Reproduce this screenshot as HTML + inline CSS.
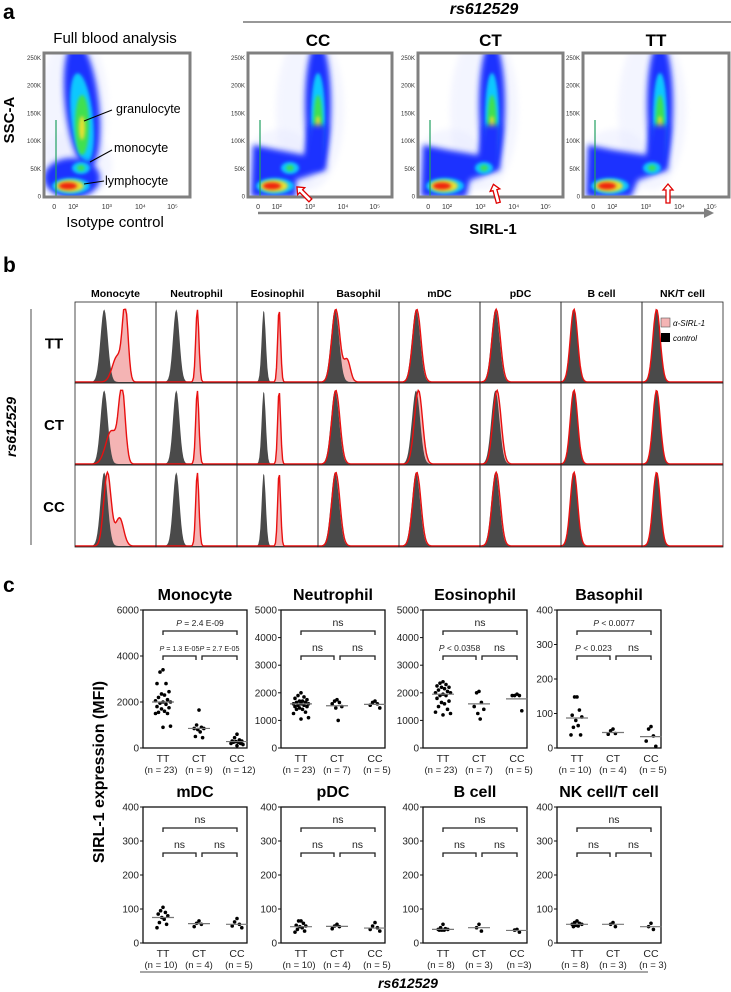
<!DOCTYPE html>
<html><head><meta charset="utf-8">
<style>
html,body{margin:0;padding:0;background:#fff;}
svg{display:block;font-family:"Liberation Sans",sans-serif;}
</style></head>
<body>
<svg id="fig" width="731" height="992" viewBox="0 0 731 992" xmlns="http://www.w3.org/2000/svg">
<defs>
<filter id="bl" x="-50%" y="-50%" width="200%" height="200%"><feGaussianBlur stdDeviation="3"/></filter>
<filter id="bl2" x="-50%" y="-50%" width="200%" height="200%"><feGaussianBlur stdDeviation="1.6"/></filter>
<clipPath id="cp0"><rect x="44" y="53" width="146" height="144"/></clipPath>
<clipPath id="cp1"><rect x="248" y="53" width="144" height="144"/></clipPath>
<clipPath id="cp2"><rect x="418" y="53" width="145" height="144"/></clipPath>
<clipPath id="cp3"><rect x="583" y="53" width="146" height="144"/></clipPath>
</defs>
<g id="pa"></g>
<g id="pb"></g>
<g id="pc"></g>
</svg>
<script>
// ===== Panel c data =====
const cellTypes = ['Monocyte','Neutrophil','Eosinophil','Basophil','mDC','pDC','B cell','NK cell/T cell'];
const genotypes = ['TT','CT','CC'];
const yMaxes = [6000,5000,5000,400,400,400,400,400];
const yStep = [2000,1000,1000,100,100,100,100,100];
const monoTT = [3400,3300,2800,2800,2450,2350,2300,2200,2100,2050,2000,2000,1950,1900,1800,1750,1700,1600,1550,1500,1500,950,900];
const monoCT = [1650,1000,900,850,850,800,700,500,450];
const monoCC = [600,450,350,300,300,280,250,250,200,200,150,100];
const neuTT = [2000,1900,1850,1800,1750,1700,1700,1650,1650,1600,1600,1600,1550,1550,1500,1500,1450,1400,1400,1300,1250,1100,1050];
const neuCT = [1750,1700,1650,1600,1500,1450,1000];
const neuCC = [1700,1650,1600,1550,1450];
const eosTT = [2400,2350,2300,2250,2200,2200,2150,2100,2050,2000,2000,1950,1900,1900,1800,1700,1650,1600,1500,1400,1300,1250,1200];
const eosCT = [2050,2000,1650,1500,1400,1250,1050];
const eosCC = [1950,1900,1900,1900,1350];
const basTT = [148,148,110,95,90,80,65,60,38,38];
const basCT = [55,50,42,40];
const basCC = [62,55,35,20,5];
const mdcTT = [105,95,90,85,80,75,70,60,55,45];
const mdcCT = [65,58,55,48];
const mdcCC = [72,62,55,50,45];
const pdcTT = [65,65,58,52,50,48,45,40,35,32];
const pdcCT = [55,50,48,42];
const pdcCC = [60,50,45,40,35];
const bTT = [55,45,42,40,40,38,38,38];
const bCT = [55,45,35];
const bCC = [40,38,32];
const nkTT = [65,60,58,55,55,52,50,48];
const nkCT = [60,55,48];
const nkCC = [58,48,40];
const medians = [[2000,850,280],[1600,1530,1580],[1950,1600,1780],[87,45,33],[75,57,55],[48,49,44],[40,45,37],[55,55,48]];
const nLabels = [['(n = 23)','(n = 9)','(n = 12)'],['(n = 23)','(n = 7)','(n = 5)'],['(n = 23)','(n = 7)','(n = 5)'],['(n = 10)','(n = 4)','(n = 5)'],
 ['(n = 10)','(n = 4)','(n = 5)'],['(n = 10)','(n = 4)','(n = 5)'],['(n = 8)','(n = 3)','(n =3)'],['(n = 8)','(n = 3)','(n = 3)']];
const sigLabels = [['P = 2.4 E-09','P = 1.3 E-05','P = 2.7 E-05'],['ns','ns','ns'],['ns','P < 0.0358','ns'],['P < 0.0077','P < 0.023','ns'],
 ['ns','ns','ns'],['ns','ns','ns'],['ns','ns','ns'],['ns','ns','ns']];
const groupData = [[monoTT,monoCT,monoCC],[neuTT,neuCT,neuCC],[eosTT,eosCT,eosCC],[basTT,basCT,basCC],[mdcTT,mdcCT,mdcCC],[pdcTT,pdcCT,pdcCC],[bTT,bCT,bCC],[nkTT,nkCT,nkCC]];

// ===== Panel b data (histogram peak fractions) =====
const histCols = ['Monocyte','Neutrophil','Eosinophil','Basophil','mDC','pDC','B cell','NK/T cell'];
const histRows = ['TT','CT','CC'];
const ctrlMu = [0.36,0.25,0.33,0.21,0.21,0.19,0.16,0.18];
const ctrlSd = [0.045,0.04,0.025,0.05,0.05,0.05,0.045,0.045];
const redTT = [[0.62,0.035,1,0.52,0.06,0.35],[0.51,0.02,1,0.5,0.02,0],[0.52,0.018,1,0.5,0.02,0],[0.22,0.05,1,0.36,0.04,0.3],[0.22,0.05,1,0.2,0.03,0],[0.2,0.05,1,0.2,0.03,0],[0.16,0.045,1,0.2,0.03,0],[0.18,0.045,1,0.2,0.03,0]];
const redCT = [[0.58,0.04,1,0.45,0.07,0.45],[0.51,0.02,1,0.5,0.02,0],[0.52,0.018,1,0.5,0.02,0],[0.22,0.05,1,0.2,0.03,0],[0.24,0.05,1,0.2,0.03,0],[0.21,0.05,1,0.2,0.03,0],[0.16,0.045,1,0.2,0.03,0],[0.18,0.045,1,0.2,0.03,0]];
const redCC = [[0.4,0.045,1,0.55,0.05,0.38],[0.51,0.02,1,0.5,0.02,0],[0.52,0.018,1,0.5,0.02,0],[0.22,0.05,1,0.2,0.03,0],[0.22,0.05,1,0.2,0.03,0],[0.2,0.05,1,0.2,0.03,0],[0.16,0.045,1,0.2,0.03,0],[0.18,0.045,1,0.2,0.03,0]];

const NS='http://www.w3.org/2000/svg';
function mk(parent, tag, attrs, txt){
  const e=document.createElementNS(NS,tag);
  for(const k in attrs) e.setAttribute(k,attrs[k]);
  if(txt!==undefined) e.textContent=txt;
  parent.appendChild(e); return e;
}
const pa=document.getElementById('pa'), pb=document.getElementById('pb'), pc=document.getElementById('pc');
let el;

// ================= PANEL A =================
el=mk(pa,'text',{x:3,y:19,'font-size':21,'font-weight':'bold'},'a');


el=mk(pa,'text',{x:115,y:43,'font-size':15,'text-anchor':'middle'},'Full blood analysis');


el=mk(pa,'text',{x:484,y:14,'font-size':16,'font-weight':'bold','font-style':'italic','text-anchor':'middle'},'rs612529');


el=mk(pa,'line',{x1:243,y1:22,x2:731,y2:22,stroke:'#777','stroke-width':1.5});


el=mk(pa,'text',{x:0,y:0,'font-size':15,'font-weight':'bold','text-anchor':'middle',transform:'translate(14,120) rotate(-90)'},'SSC-A');


el=mk(pa,'text',{x:115,y:227,'font-size':15,'text-anchor':'middle'},'Isotype control');


el=mk(pa,'line',{x1:258,y1:213,x2:705,y2:213,stroke:'#808080','stroke-width':2.5});


el=mk(pa,'path',{d:'M704,208 L714,213 L704,218 Z',fill:'#808080'});


el=mk(pa,'text',{x:493,y:234,'font-size':15,'font-weight':'bold','text-anchor':'middle'},'SIRL-1');



const dotPlots=[{l:44,r:190,col:82,title:null,name:'isotype-plot'},{l:248,r:392,col:318,title:'CC',name:'cc-plot'},{l:418,r:563,col:492,title:'CT',name:'ct-plot'},{l:583,r:729,col:660,title:'TT',name:'tt-plot'}];
const yTickA=['250K','200K','150K','100K','50K','0'];
const xTickA=['0','10²','10³','10⁴','10⁵'];
dotPlots.forEach((p,i)=>{
  const g=mk(pa,'g',{});
  
  
  const top=53,bot=197;
  const c=mk(g,'g',{'clip-path':'url(#cp'+i+')'});
  const L=p.l, X=p.col;
  mk(c,'ellipse',{cx:X-8,cy:110,rx:34,ry:80,fill:'#e6e9ff',opacity:0.45,filter:'url(#bl)'});
  mk(c,'ellipse',{cx:L+32,cy:165,rx:36,ry:36,fill:'#e6e9ff',opacity:0.45,filter:'url(#bl)'});
  mk(c,'ellipse',{cx:X,cy:105,rx:i==0?17:13,ry:64,fill:'#1a30ff',filter:'url(#bl)',transform:i==0?'rotate(-6 '+X+' 105)':''});
  mk(c,'ellipse',{cx:X,cy:118,rx:i==0?11:7,ry:45,fill:'#10c8ff',filter:'url(#bl2)',transform:i==0?'rotate(-6 '+X+' 118)':''});
  mk(c,'ellipse',{cx:X,cy:125,rx:i==0?7:4.5,ry:30,fill:'#40e050',filter:'url(#bl2)'});
  mk(c,'ellipse',{cx:X,cy:128,rx:i==0?3:2.5,ry:12,fill:'#e8e030',filter:'url(#bl2)'});
  if(i==0){
    mk(c,'ellipse',{cx:L+28,cy:178,rx:28,ry:20,fill:'#1a30ff',filter:'url(#bl)'});
  } else {
    mk(c,'path',{d:'M'+(L+3)+','+bot+' L'+(L+5)+',145 L'+(L+30)+',150 L'+(X-14)+',155 L'+(X-9)+',125 L'+(X+9)+',125 L'+(X+8)+',170 L'+(X-22)+',180 L'+(L+48)+','+bot+' Z',fill:'#1a30ff',filter:'url(#bl)'});
  }
  const mx = i==0 ? L+37 : (i==1 ? L+42 : X-8);
  mk(c,'ellipse',{cx:mx,cy:168,rx:9,ry:6,fill:'#10c8ff',filter:'url(#bl2)'});
  mk(c,'ellipse',{cx:mx,cy:168,rx:4,ry:3,fill:'#40e050',filter:'url(#bl2)'});
  mk(c,'ellipse',{cx:L+27,cy:186,rx:19,ry:8,fill:'#10c8ff',filter:'url(#bl2)'});
  mk(c,'ellipse',{cx:L+26,cy:186,rx:14,ry:6,fill:'#e8e030',filter:'url(#bl2)'});
  mk(c,'ellipse',{cx:L+24,cy:186,rx:9,ry:3.5,fill:'#f02010',filter:'url(#bl2)'});
  mk(c,'line',{x1:L+12,y1:120,x2:L+12,y2:197,stroke:'#20a060','stroke-width':1.2});
  el=mk(g,'rect',{x:L,y:top,width:p.r-L,height:bot-top,fill:'none',stroke:'#808080','stroke-width':3});
  
  
  yTickA.forEach((t,k)=>{
    el=mk(g,'text',{x:L-3,y:top+7+k*27.7,'font-size':6,'text-anchor':'end',fill:'#333'},t);
    
    
  });
  const xf=[0.07,0.2,0.43,0.66,0.88];
  xTickA.forEach((t,k)=>{
    el=mk(g,'text',{x:L+xf[k]*(p.r-L),y:bot+12,'font-size':7,'text-anchor':'middle',fill:'#333'},t);
    
    
  });
  if(p.title){
    el=mk(g,'text',{x:(L+p.r)/2-(i==1?2:0),y:46,'font-size':17,'font-weight':'bold','text-anchor':'middle'},p.title);
    
    
    const ax = i==1 ? 304 : (i==2 ? X+4 : X+8);
    const rot = i==1 ? -45 : (i==2 ? -15 : 0);
    el=mk(g,'path',{d:'M0,-10 L5,-4 L2,-4 L2,9 L-2,9 L-2,-4 L-5,-4 Z',fill:'#fff',stroke:'#e00000','stroke-width':1.3,transform:'translate('+ax+',194) rotate('+rot+')'});
    
    
  }
});
[['granulocyte',116,113,112,110,84,121],['monocyte',114,152,112,150,90,162],['lymphocyte',105,185,104,181,84,184]].forEach(a=>{
  el=mk(pa,'line',{x1:a[3],y1:a[4],x2:a[5],y2:a[6],stroke:'#000','stroke-width':1});
  
  
  el=mk(pa,'text',{x:a[1],y:a[2],'font-size':12.5},a[0]);
  
  
});

// ================= PANEL B =================
el=mk(pb,'text',{x:3,y:272,'font-size':21,'font-weight':'bold'},'b');


const gx0=75, gx1=723, rowY=[302,383,465,547];
const cw=(gx1-gx0)/8;
el=mk(pb,'line',{x1:31,y1:309,x2:31,y2:545,stroke:'#888','stroke-width':1.5});


el=mk(pb,'text',{x:0,y:0,'font-size':14,'font-weight':'bold','font-style':'italic','text-anchor':'middle',transform:'translate(16,427) rotate(-90)'},'rs612529');


function gauss(x,m,s){return Math.exp(-0.5*((x-m)/s)*((x-m)/s));}
histRows.forEach((r,ri)=>{
  el=mk(pb,'text',{x:54,y:(rowY[ri]+rowY[ri+1])/2+6,'font-size':15,'font-weight':'bold','text-anchor':'middle'},r);
  
  
});
histCols.forEach((cName,ci)=>{
  el=mk(pb,'text',{x:gx0+cw*ci+cw/2,y:297,'font-size':10.5,'font-weight':'bold','text-anchor':'middle'},cName);
  
  
  histRows.forEach((r,ri)=>{
    const x0=gx0+cw*ci, y0=rowY[ri], y1=rowY[ri+1], h=y1-y0-6;
    const red=[redTT,redCT,redCC][ri][ci];
    const N=80;
    let gp='M'+x0+','+y1, rp='M'+x0+','+y1, rl='';
    for(let k=0;k<=N;k++){
      const f=k/N, xx=x0+f*cw;
      const gv=gauss(f,ctrlMu[ci],ctrlSd[ci]);
      const rv=(red[2]*gauss(f,red[0],red[1])+red[5]*gauss(f,red[3],red[4]))/Math.max(1,red[2]);
      const gy=y1-1-gv*h*0.97, ry=y1-1-Math.min(rv,1)*h*0.97;
      gp+=' L'+xx.toFixed(1)+','+gy.toFixed(1);
      rp+=' L'+xx.toFixed(1)+','+ry.toFixed(1);
      rl+=(k?' L':'M')+xx.toFixed(1)+','+ry.toFixed(1);
    }
    gp+=' L'+(x0+cw)+','+y1+' Z'; rp+=' L'+(x0+cw)+','+y1+' Z';
    const g=mk(pb,'g',{});
    
    
    mk(g,'path',{d:rp,fill:'#f4b4b4'});
    mk(g,'path',{d:gp,fill:'#4a4a4a'});
    mk(g,'path',{d:rl,fill:'none',stroke:'#e81010','stroke-width':1.4});
    mk(g,'rect',{x:x0,y:y0,width:cw,height:y1-y0,fill:'none',stroke:'#222','stroke-width':0.8});
  });
});
el=mk(pb,'rect',{x:661,y:318,width:9,height:9,fill:'#f4b4b4',stroke:'#555','stroke-width':0.6});


el=mk(pb,'text',{x:673,y:326,'font-size':8,'font-style':'italic'},'α-SIRL-1');


el=mk(pb,'rect',{x:661,y:333,width:9,height:9,fill:'#000'});


el=mk(pb,'text',{x:673,y:341,'font-size':8,'font-style':'italic'},'control');



// ================= PANEL C =================
el=mk(pc,'text',{x:3,y:592,'font-size':21,'font-weight':'bold'},'c');


el=mk(pc,'text',{x:0,y:0,'font-size':16,'font-weight':'bold','text-anchor':'middle',transform:'translate(104,772) rotate(-90)'},'SIRL-1 expression (MFI)');


el=mk(pc,'line',{x1:140,y1:972,x2:648,y2:972,stroke:'#888','stroke-width':1.5});


el=mk(pc,'text',{x:408,y:988,'font-size':14,'font-weight':'bold','font-style':'italic','text-anchor':'middle'},'rs612529');


const boxL=[143,281,423,557], boxW=104, gOff=[20,56,94];
const rowsC=[{top:610,bot:748},{top:807,bot:943}];
const jit=[0,-3,3,-6,6,-1.5,1.5,-4.5,4.5,-7.5,7.5];
cellTypes.forEach((ct,ci)=>{
  const row=rowsC[Math.floor(ci/4)], L=boxL[ci%4], R=L+boxW;
  const max=yMaxes[ci];
  const sy=v=>row.bot-(v/max)*(row.bot-row.top);
  const g=mk(pc,'g',{});
  
  
  el=mk(g,'text',{x:(L+R)/2,y:row.top-10,'font-size':16,'font-weight':'bold','text-anchor':'middle'},ct);
  
  
  el=mk(g,'rect',{x:L,y:row.top,width:boxW,height:row.bot-row.top,fill:'none',stroke:'#111','stroke-width':1.3});
  
  
  for(let v=0;v<=max;v+=yStep[ci]){
    mk(g,'line',{x1:L-3,y1:sy(v),x2:L,y2:sy(v),stroke:'#111','stroke-width':1});
    el=mk(g,'text',{x:L-4,y:sy(v)+3.5,'font-size':10,'text-anchor':'end',fill:'#222'},String(v));
    
    
  }
  genotypes.forEach((gt,gi)=>{
    const cx=L+gOff[gi];
    const vals=groupData[ci][gi];
    vals.forEach((v,k)=>{
      el=mk(g,'circle',{cx:cx+jit[k%jit.length]*(vals.length>12?1:0.8),cy:sy(v),r:1.8,fill:'#000'});
      
      
    });
    el=mk(g,'line',{x1:cx-11,y1:sy(medians[ci][gi]),x2:cx+11,y2:sy(medians[ci][gi]),stroke:'#777','stroke-width':1.2});
    
    
    el=mk(g,'text',{x:cx,y:row.bot+14,'font-size':10.5,'text-anchor':'middle',fill:'#222'},gt);
    
    
    el=mk(g,'text',{x:cx+(gi==0?-2:(gi==2?2:0)),y:row.bot+25,'font-size':9.5,'text-anchor':'middle',fill:'#222'},nLabels[ci][gi]);
    
    
  });
  const yU=row.top+21, yLo=row.top+46;
  const bks=[[L+gOff[0],L+gOff[2],yU],[L+gOff[0],L+gOff[1]-3,yLo],[L+gOff[1]+3,L+gOff[2],yLo]];
  bks.forEach((b,bi)=>{
    el=mk(g,'path',{d:'M'+b[0]+','+(b[2]+4)+' V'+b[2]+' H'+b[1]+' V'+(b[2]+4),fill:'none',stroke:'#222','stroke-width':1.3});
    
    
    const lab=sigLabels[ci][bi];
    const isP=lab[0]==='P';
    const tight = isP && ci===0 && bi>0;
    const attrs={x:(b[0]+b[1])/2,y:b[2]-5,'font-size':isP?8.5:10.5,'text-anchor':'middle',fill:'#222'};
    if(tight){attrs['font-size']=7.5;attrs.textLength=40;attrs.lengthAdjust='spacingAndGlyphs';}
    el=mk(g,'text',attrs);
    
    
    if(isP){
      mk(el,'tspan',{'font-style':'italic'},'P');
      mk(el,'tspan',{},lab.slice(1));
    } else el.textContent=lab;
  });
});
</script>
</body></html>
